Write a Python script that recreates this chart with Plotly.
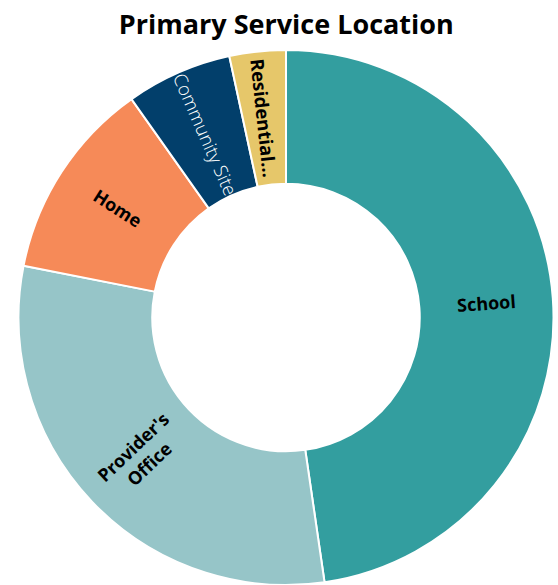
import math
import plotly.graph_objects as go

categories = ["School", "Provider's Office", "Home", "Community Site", "Residential Treatment"]
display_labels = ["School", "Provider's<br>Office", "Home", "Community Site", "Residential..."]
values = [47.7, 30.4, 12.1, 6.4, 3.4]
colors = ["#339e9f", "#96c5c8", "#f68a58", "#023f6b", "#e6c76a"]
text_colors = ["#000000", "#000000", "#000000", "#ffffff", "#000000"]
text_weights = [700, 700, 700, 300, 700]
text_sizes = [18, 18, 18, 18.5, 18.5]

W, H = 558, 585
M = dict(l=18, r=4, t=50, b=0)
HOLE = 0.5
pw, ph = W - M["l"] - M["r"], H - M["t"] - M["b"]
radius = min(pw, ph) / 2
r_mid = radius * (1 + HOLE) / 2

fig = go.Figure(go.Pie(
    labels=categories,
    values=values,
    textinfo="none",
    hole=HOLE,
    sort=False,
    direction="clockwise",
    rotation=0,
    marker=dict(colors=colors, line=dict(color="white", width=2)),
    showlegend=False,
))

# radial labels at the middle of each slice
total = sum(values)
cum = 0.0
annotations = []
for lab, v, c, w, s in zip(display_labels, values, text_colors, text_weights, text_sizes):
    mid = (cum + v / 2) / total * 360.0
    cum += v
    th = math.radians(mid)
    ang = mid - 90
    while ang > 90:
        ang -= 180
    while ang < -90:
        ang += 180
    annotations.append(dict(
        x=0.5 + r_mid * math.sin(th) / pw,
        y=0.5 + r_mid * math.cos(th) / ph,
        xref="paper", yref="paper",
        text=lab, showarrow=False, textangle=ang,
        xanchor="center", yanchor="middle",
        font=dict(family="Open Sans", size=s, color=c, weight=w),
    ))

fig.update_layout(
    width=W, height=H,
    margin=M,
    paper_bgcolor="white",
    annotations=annotations,
    title=dict(text="<b>Primary Service Location</b>", x=0.513, xanchor="center", y=0.958, yanchor="middle",
               font=dict(family="Open Sans", size=27, color="#000000")),
)

fig.write_html("out.html")
